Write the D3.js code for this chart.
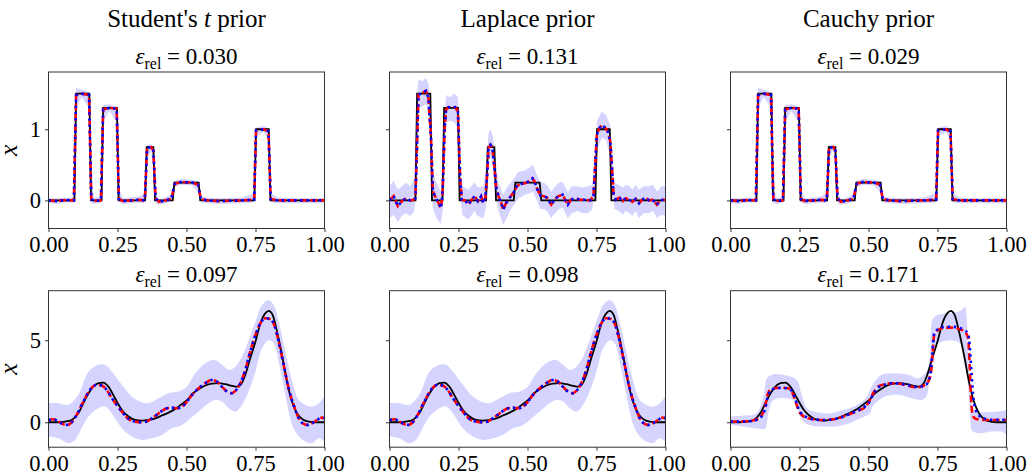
<!DOCTYPE html>
<html>
<head>
<meta charset="utf-8">
<script src="https://cdn.jsdelivr.net/npm/d3@7"></script>
<style>
body { margin: 0; background: #fff; }
svg text { font-family: "Liberation Serif", serif !important; fill: #000; }
</style>
</head>
<body>
<svg id="chart" width="1029" height="474"></svg>
<script>
// ---- data ----
const priors = ["Student's", "Laplace", "Cauchy"];
const errTop = ["0.030", "0.131", "0.029"];
const errBottom = ["0.097", "0.098", "0.171"];
const xTicks = [0, 0.25, 0.5, 0.75, 1];
const yTicksTop = [0, 1];
const yTicksBottom = [0, 5];

// piecewise constant truth (top row)
const stepTruth = [[0,0],[0.094,0],[0.1,1.5],[0.148,1.5],[0.154,0],[0.192,0],[0.198,1.3],[0.248,1.3],[0.254,0],
  [0.35,0],[0.356,0.75],[0.38,0.75],[0.386,0],[0.45,0],[0.456,0.25],[0.544,0.25],[0.55,0],[0.746,0],[0.752,1],
  [0.798,1],[0.804,0],[1,0]];

// Student's t / Cauchy estimates, top row (nearly the same)
const stepMeanT = [[0,0],[0.03,-0.01],[0.06,0.005],[0.092,0],[0.1,1.48],[0.12,1.5],[0.147,1.48],[0.155,0.02],
  [0.165,-0.01],[0.19,0],[0.198,1.28],[0.22,1.3],[0.247,1.29],[0.255,0.02],[0.27,-0.01],[0.3,0],[0.33,0.01],
  [0.349,0],[0.357,0.73],[0.372,0.75],[0.38,0.7],[0.388,0.03],[0.4,-0.02],[0.415,-0.01],[0.445,0.02],
  [0.457,0.23],[0.48,0.26],[0.52,0.25],[0.542,0.22],[0.552,0.02],[0.575,0],[0.62,-0.01],[0.7,0],[0.745,0.01],
  [0.752,0.98],[0.78,1],[0.797,0.97],[0.805,0.02],[0.83,0],[0.9,0],[1,0]];
const stepBandT = [[0,-0.04,0.03],[0.03,-0.05,0.03],[0.06,-0.03,0.04],[0.088,-0.03,0.04],[0.094,-0.03,0.5],
  [0.1,1.3,1.58],[0.12,1.45,1.56],[0.147,1.3,1.52],[0.155,-0.04,0.3],[0.165,-0.05,0.04],[0.19,-0.03,0.05],
  [0.198,1.1,1.34],[0.22,1.26,1.35],[0.247,1.1,1.32],[0.257,-0.03,0.15],[0.27,-0.05,0.03],[0.3,-0.04,0.04],
  [0.33,-0.03,0.06],[0.347,-0.04,0.1],[0.357,0.6,0.78],[0.372,0.7,0.79],[0.382,0.4,0.74],[0.39,-0.05,0.1],
  [0.4,-0.06,0.02],[0.415,-0.05,0.03],[0.443,-0.02,0.08],[0.457,0.18,0.28],[0.48,0.22,0.3],[0.52,0.21,0.29],
  [0.545,0.1,0.27],[0.555,-0.03,0.06],[0.575,-0.04,0.04],[0.62,-0.05,0.03],[0.7,-0.04,0.04],[0.743,-0.03,0.1],
  [0.752,0.9,1.02],[0.78,0.96,1.05],[0.797,0.85,1.01],[0.807,-0.03,0.1],[0.83,-0.04,0.04],[0.9,-0.04,0.03],
  [1,-0.04,0.03]];

// Laplace estimate, top row
const stepMeanL = [[0,0],[0.015,0.06],[0.03,-0.08],[0.045,-0.01],[0.06,0.03],[0.075,0],[0.087,0.01],[0.094,0.03],
  [0.105,1.49],[0.115,1.5],[0.132,1.54],[0.141,1.44],[0.15,0.92],[0.157,0.13],[0.165,0.06],[0.178,-0.04],
  [0.186,-0.11],[0.192,0.08],[0.2,1.02],[0.205,1.28],[0.214,1.31],[0.226,1.3],[0.238,1.31],[0.248,1.25],
  [0.256,0.31],[0.262,0.01],[0.274,0],[0.286,-0.06],[0.296,0],[0.308,0.06],[0.32,-0.01],[0.332,0.06],
  [0.34,-0.04],[0.347,0.03],[0.353,0.31],[0.359,0.74],[0.366,0.78],[0.373,0.74],[0.38,0.46],[0.387,0.17],
  [0.395,0.06],[0.405,-0.04],[0.412,-0.13],[0.422,-0.04],[0.431,0.01],[0.443,0.08],[0.453,0.13],[0.461,0.2],
  [0.473,0.23],[0.491,0.24],[0.506,0.27],[0.518,0.31],[0.525,0.27],[0.534,0.17],[0.546,0.07],[0.558,0.06],
  [0.57,0.04],[0.586,-0.06],[0.6,0.02],[0.612,0.06],[0.627,0.08],[0.636,0.01],[0.646,-0.06],[0.658,0.01],
  [0.672,0.03],[0.69,0.01],[0.708,0.01],[0.727,0],[0.739,0.06],[0.745,0.46],[0.751,0.92],[0.76,1.01],
  [0.769,1.06],[0.779,1.03],[0.791,0.97],[0.8,0.83],[0.806,0.46],[0.812,0.08],[0.82,0.01],[0.833,0.04],
  [0.845,-0.01],[0.856,0.03],[0.868,0.01],[0.88,-0.02],[0.892,0.02],[0.904,-0.04],[0.916,0.01],[0.928,0.04],
  [0.94,0],[0.953,0.01],[0.969,-0.06],[0.981,0],[0.993,0.01],[1,0]];
const stepBandL = [[0,-0.25,0.2],[0.015,-0.2,0.28],[0.03,-0.3,0.15],[0.045,-0.22,0.2],[0.06,-0.18,0.25],
  [0.075,-0.22,0.2],[0.09,-0.15,0.3],[0.097,0.2,1.3],[0.105,1.3,1.7],[0.12,1.32,1.68],[0.132,1.35,1.72],
  [0.141,1.2,1.65],[0.15,0.6,1.3],[0.157,-0.1,0.4],[0.17,-0.25,0.25],[0.186,-0.33,0.12],[0.194,-0.1,0.5],
  [0.2,0.8,1.25],[0.206,1.1,1.48],[0.22,1.12,1.45],[0.235,1.1,1.5],[0.248,1,1.45],[0.256,0.1,0.55],
  [0.264,-0.2,0.2],[0.286,-0.27,0.15],[0.308,-0.15,0.25],[0.32,-0.22,0.18],[0.34,-0.25,0.2],[0.35,-0.1,0.5],
  [0.359,0.55,0.95],[0.366,0.6,1],[0.375,0.5,0.9],[0.383,0.1,0.6],[0.395,-0.15,0.25],[0.412,-0.35,0.08],
  [0.425,-0.25,0.18],[0.44,-0.12,0.25],[0.453,-0.05,0.32],[0.465,0.02,0.4],[0.49,0.08,0.42],[0.51,0.1,0.47],
  [0.52,0.12,0.5],[0.534,0,0.36],[0.546,-0.12,0.25],[0.558,-0.12,0.25],[0.57,-0.15,0.22],[0.586,-0.25,0.12],
  [0.6,-0.18,0.2],[0.615,-0.12,0.25],[0.627,-0.1,0.26],[0.646,-0.25,0.12],[0.66,-0.18,0.2],[0.68,-0.15,0.2],
  [0.7,-0.18,0.18],[0.72,-0.18,0.2],[0.735,-0.12,0.22],[0.745,0.15,0.75],[0.752,0.7,1.12],[0.769,0.88,1.25],
  [0.785,0.85,1.2],[0.8,0.6,1.05],[0.807,0.2,0.7],[0.815,-0.12,0.25],[0.83,-0.15,0.22],[0.845,-0.2,0.18],
  [0.856,-0.15,0.22],[0.87,-0.18,0.2],[0.88,-0.22,0.15],[0.892,-0.15,0.22],[0.904,-0.25,0.15],[0.92,-0.18,0.2],
  [0.94,-0.18,0.2],[0.955,-0.15,0.22],[0.97,-0.25,0.12],[0.985,-0.2,0.2],[1,-0.22,0.2]];

// smooth truth (bottom row)
const smoothTruth = [[0,0],[0.03,0],[0.06,0.04],[0.084,0.14],[0.108,0.55],[0.132,1.36],[0.157,2.07],[0.181,2.38],
  [0.199,2.42],[0.217,2.17],[0.241,1.46],[0.266,0.75],[0.29,0.35],[0.314,0.14],[0.338,0.1],[0.362,0.14],
  [0.387,0.24],[0.411,0.41],[0.435,0.59],[0.459,0.81],[0.484,1.12],[0.508,1.46],[0.52,1.71],[0.544,2.01],
  [0.568,2.24],[0.592,2.36],[0.616,2.38],[0.641,2.32],[0.665,2.22],[0.683,2.17],[0.7,2.38],[0.713,2.89],
  [0.731,3.9],[0.75,4.92],[0.768,6.04],[0.786,6.65],[0.798,6.79],[0.812,6.54],[0.828,5.53],[0.846,4.1],
  [0.864,2.48],[0.882,1.26],[0.9,0.55],[0.919,0.2],[0.943,0.04],[0.967,0],[1,0]];

// Student's t / Laplace estimates, bottom row (they look the same)
const smoothMeanT = [[0,0.14],[0.018,0.18],[0.036,0.04],[0.054,-0.12],[0.07,-0.16],[0.084,0],[0.102,0.45],
  [0.12,1.06],[0.139,1.67],[0.157,2.11],[0.175,2.28],[0.193,2.24],[0.211,1.97],[0.23,1.46],[0.247,1.06],
  [0.266,0.65],[0.29,0.2],[0.314,0.04],[0.338,0],[0.356,0.04],[0.374,0.24],[0.392,0.45],[0.411,0.69],
  [0.429,0.85],[0.447,0.89],[0.465,0.85],[0.484,0.96],[0.502,1.26],[0.52,1.67],[0.544,2.07],[0.568,2.38],
  [0.592,2.58],[0.61,2.48],[0.628,2.17],[0.647,1.87],[0.663,1.77],[0.677,1.91],[0.695,2.38],[0.713,3.19],
  [0.731,4.31],[0.75,5.33],[0.768,6.04],[0.786,6.34],[0.804,6.28],[0.82,5.83],[0.834,4.92],[0.852,3.5],
  [0.87,2.07],[0.89,0.96],[0.907,0.24],[0.921,-0.06],[0.937,-0.16],[0.955,-0.06],[0.973,0.14],[0.991,0.28],[1,0.25]];
const smoothUpperT = [[0,1.16],[0.036,1.16],[0.072,1.06],[0.108,1.67],[0.145,3.09],[0.181,3.5],[0.205,3.5],
  [0.229,3.09],[0.266,2.28],[0.302,1.57],[0.338,1.22],[0.362,1.16],[0.399,1.46],[0.435,1.77],[0.471,1.87],
  [0.5,2.15],[0.532,2.99],[0.568,3.6],[0.604,3.8],[0.629,3.5],[0.653,3.19],[0.677,3.39],[0.701,4],[0.725,5],
  [0.75,6.14],[0.774,7.15],[0.798,7.46],[0.816,7.15],[0.834,6.14],[0.858,4.31],[0.883,2.48],[0.907,1.36],
  [0.931,1.06],[0.955,0.96],[0.98,1.16],[1,1.6]];
const smoothLowerT = [[0,-0.87],[0.036,-0.98],[0.072,-1.28],[0.096,-1.08],[0.12,-0.37],[0.145,0.35],[0.181,0.85],
  [0.205,0.96],[0.229,0.55],[0.266,-0.37],[0.302,-0.87],[0.338,-1.08],[0.374,-0.98],[0.411,-0.77],[0.447,-0.37],
  [0.484,-0.16],[0.508,0.14],[0.544,0.65],[0.58,1.16],[0.604,1.36],[0.629,1.26],[0.653,0.85],[0.677,0.65],
  [0.701,1.06],[0.725,1.87],[0.75,3.09],[0.774,4.51],[0.798,5],[0.816,4.82],[0.834,3.7],[0.858,1.67],
  [0.883,-0.16],[0.907,-0.87],[0.931,-1.18],[0.955,-1.28],[0.98,-0.98],[1,-1.18]];

// Cauchy estimates, bottom row
const smoothMeanC = [[0,0.04],[0.035,0.04],[0.071,0.08],[0.101,0.24],[0.114,0.45],[0.126,0.96],[0.134,1.67],
  [0.144,1.97],[0.162,2.07],[0.186,2.11],[0.21,2.07],[0.222,1.87],[0.234,1.36],[0.246,0.75],[0.258,0.45],
  [0.277,0.28],[0.301,0.18],[0.337,0.14],[0.373,0.18],[0.409,0.35],[0.446,0.59],[0.47,0.75],[0.49,0.95],
  [0.5,1.2],[0.517,1.77],[0.535,2.17],[0.56,2.32],[0.584,2.38],[0.608,2.36],[0.632,2.28],[0.656,2.17],
  [0.68,2.13],[0.704,2.28],[0.716,2.48],[0.726,2.99],[0.733,4.31],[0.738,5.33],[0.746,5.53],[0.77,5.73],
  [0.8,5.77],[0.831,5.67],[0.849,5.53],[0.861,5.12],[0.867,3.29],[0.873,1.06],[0.879,0.35],[0.891,0.2],
  [0.921,0.14],[0.97,0.14],[1,0.14]];
const smoothMedianC = [[0,0.04],[0.035,0.04],[0.071,0.06],[0.101,0.2],[0.114,0.4],[0.126,0.85],[0.134,1.5],
  [0.144,1.9],[0.162,2.07],[0.186,2.1],[0.21,2.05],[0.222,1.9],[0.234,1.45],[0.246,0.85],[0.258,0.5],
  [0.277,0.3],[0.301,0.18],[0.337,0.14],[0.373,0.18],[0.409,0.35],[0.446,0.6],[0.47,0.78],[0.49,1],[0.5,1.15],
  [0.517,1.7],[0.535,2.12],[0.56,2.3],[0.584,2.38],[0.608,2.37],[0.632,2.3],[0.656,2.2],[0.68,2.15],
  [0.704,2.25],[0.716,2.45],[0.726,3.2],[0.733,4.6],[0.738,5.4],[0.746,5.6],[0.77,5.8],[0.8,5.82],
  [0.831,5.75],[0.849,5.6],[0.861,5.4],[0.867,4.6],[0.873,3.1],[0.879,1.67],[0.891,0.65],[0.915,0.24],
  [0.945,0.15],[1,0.15]];
const smoothUpperC = [[0,0.35],[0.047,0.41],[0.095,0.55],[0.12,1.67],[0.132,2.68],[0.156,2.93],[0.204,2.85],
  [0.24,2.58],[0.258,1.67],[0.277,0.85],[0.313,0.61],[0.361,0.55],[0.409,0.75],[0.458,1.06],[0.49,1.46],
  [0.511,2.17],[0.547,2.89],[0.596,2.99],[0.644,2.89],[0.68,2.68],[0.71,3.09],[0.722,3.9],[0.734,6.34],
  [0.758,6.59],[0.8,6.65],[0.837,6.85],[0.849,7.05],[0.855,6.54],[0.861,4.1],[0.873,1.26],[0.885,0.65],
  [0.922,0.61],[0.97,0.65],[1,0.75]];
const smoothLowerC = [[0,-0.16],[0.047,-0.26],[0.107,-0.41],[0.126,-0.37],[0.138,0.65],[0.156,1.36],[0.204,1.46],
  [0.234,1.26],[0.252,0.35],[0.277,-0.12],[0.325,-0.26],[0.373,-0.26],[0.421,-0.12],[0.47,0.24],[0.506,0.55],
  [0.515,0.96],[0.559,1.57],[0.608,1.67],[0.656,1.46],[0.692,1.36],[0.71,1.57],[0.722,3.29],[0.734,4.51],
  [0.752,4.82],[0.8,5],[0.837,4.72],[0.855,3.09],[0.867,0.85],[0.872,-0.37],[0.879,-0.57],[0.903,-0.67],
  [0.946,-0.57],[0.982,-0.57],[1,-0.77]];

// ---- layout ----
const COL_LEFT = [48.5, 389.5, 730.5];
const ROW_TOP = [72, 290.7];
const PW = 276, PH = 156.5;
const SERIF = "'Liberation Serif', serif";

const panels = [];
for (let c = 0; c < 3; c++) {
  panels.push({
    row: 0, col: c, err: errTop[c], truth: stepTruth,
    red: c === 1 ? stepMeanL : stepMeanT, blue: c === 1 ? stepMeanL : stepMeanT,
    band: c === 1 ? stepBandL : stepBandT, yDomain: [-0.395, 1.805], yTicks: yTicksTop, smooth: false
  });
}
for (let c = 0; c < 3; c++) {
  panels.push({
    row: 1, col: c, err: errBottom[c], truth: smoothTruth,
    red: c === 2 ? smoothMeanC : smoothMeanT, blue: c === 2 ? smoothMedianC : smoothMeanT,
    upper: c === 2 ? smoothUpperC : smoothUpperT, lower: c === 2 ? smoothLowerC : smoothLowerT,
    yDomain: [-1.52, 8.02], yTicks: yTicksBottom, smooth: true
  });
}

const svg = d3.select("#chart");
const defs = svg.append("defs");

panels.forEach((p, i) => {
  const g = svg.append("g").attr("transform", `translate(${COL_LEFT[p.col]},${ROW_TOP[p.row]})`);
  const x = d3.scaleLinear().domain([0, 1]).range([0, PW]);
  const y = d3.scaleLinear().domain(p.yDomain).range([PH, 0]);
  const curve = p.smooth ? d3.curveMonotoneX : d3.curveLinear;

  defs.append("clipPath").attr("id", "clip" + i)
    .append("rect").attr("width", PW).attr("height", PH);
  const plot = g.append("g").attr("clip-path", `url(#clip${i})`);

  // uncertainty band
  if (p.band) {
    plot.append("path").datum(p.band)
      .attr("fill", "#0000ff").attr("fill-opacity", 0.17)
      .attr("d", d3.area().x(d => x(d[0])).y0(d => y(d[1])).y1(d => y(d[2])));
  } else {
    // upper and lower were read at their own x positions: upper forward, lower back
    const edge = d3.line().curve(d3.curveCatmullRom.alpha(0.5)).x(d => x(d[0])).y(d => y(d[1]));
    const dUp = edge(p.upper);
    const dLo = edge(p.lower.slice().reverse()).replace(/^M/, "L");
    plot.append("path").attr("fill", "#0000ff").attr("fill-opacity", 0.17)
      .attr("d", dUp + dLo + "Z");
  }

  const line = d3.line().curve(curve).x(d => x(d[0])).y(d => y(d[1]));
  plot.append("path").datum(p.truth).attr("fill", "none").attr("stroke", "#000")
    .attr("stroke-width", 1.8).attr("d", line);
  plot.append("path").datum(p.red).attr("fill", "none").attr("stroke", "#ff0000")
    .attr("stroke-width", 2.6).attr("stroke-dasharray", "7,3.5").attr("d", line);
  plot.append("path").datum(p.blue).attr("fill", "none").attr("stroke", "#0000ff")
    .attr("stroke-width", 2.6).attr("stroke-dasharray", "2.4,3.8").attr("d", line);

  // frame
  g.append("rect").attr("width", PW).attr("height", PH)
    .attr("fill", "none").attr("stroke", "#333").attr("stroke-width", 1);

  // axes
  const xAxis = g.append("g").attr("transform", `translate(0,${PH})`)
    .call(d3.axisBottom(x).tickValues(xTicks).tickFormat(d3.format(".2f")).tickSize(3.5).tickPadding(4.5));
  const yAxis = g.append("g")
    .call(d3.axisLeft(y).tickValues(p.yTicks).tickFormat(p.col === 0 ? d3.format("d") : () => "")
      .tickSize(3.5).tickPadding(4));
  [xAxis, yAxis].forEach(a => {
    a.attr("font-family", SERIF);
    a.select(".domain").remove();
    a.selectAll(".tick line").attr("stroke", "#333");
    a.selectAll("text").style("font-family", SERIF).attr("font-size", 22.5).attr("fill", "#000");
  });

  // subtitle: eps_rel = value
  const st = g.append("text").attr("x", PW / 2).attr("y", -8.5).attr("text-anchor", "middle")
    .style("font-family", SERIF).attr("font-size", 23);
  st.append("tspan").attr("font-style", "italic").text("ε");
  st.append("tspan").attr("font-size", 16).attr("dy", 5).text("rel");
  st.append("tspan").attr("dy", -5).text(" = " + p.err);

  if (p.col === 0) {
    g.append("text").attr("transform", `translate(${-32},${PH / 2}) rotate(-90)`)
      .attr("text-anchor", "middle").style("font-family", SERIF)
      .attr("font-size", 26).attr("font-style", "italic").text("x");
  }

  if (p.row === 0) {
    const t = g.append("text").attr("x", PW / 2).attr("y", 27 - ROW_TOP[0])
      .attr("text-anchor", "middle").style("font-family", SERIF).attr("font-size", 25);
    if (p.col === 0) {
      t.append("tspan").text("Student's ");
      t.append("tspan").attr("font-style", "italic").text("t");
      t.append("tspan").text(" prior");
    } else {
      t.text(priors[p.col] + " prior");
    }
  }
});
</script>
</body>
</html>
